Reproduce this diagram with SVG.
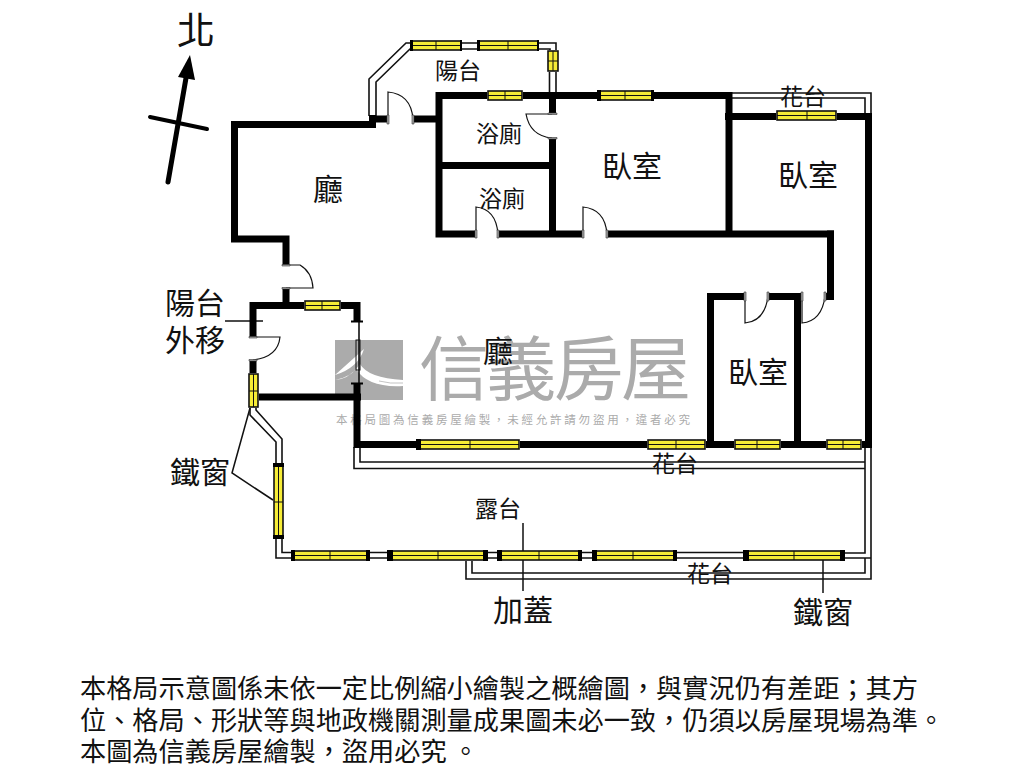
<svg xmlns="http://www.w3.org/2000/svg" width="1024" height="768" viewBox="0 0 1024 768">
<style>
text{font-family:"Noto Sans CJK TC","Noto Sans CJK SC",sans-serif;fill:#111;text-anchor:middle;font-weight:400}
.wall{fill:none;stroke:#000;stroke-width:7;stroke-linecap:butt;stroke-linejoin:miter}
.thin{fill:none;stroke:#111;stroke-width:1.6}
.door{fill:none;stroke:#111;stroke-width:1.2}
.lead{fill:none;stroke:#111;stroke-width:1.5}
.win{fill:#f6ec36;stroke:#111;stroke-width:1.6}
.wl{fill:none;stroke:#111;stroke-width:1}
.cap{fill:#000}
.jamb{fill:#aaa;stroke:#333;stroke-width:.6}
.s30{font-size:30px}.s23{font-size:23px}.s26{font-size:26.2px;text-anchor:start}
.wm{fill:#ababab}
</style>
<rect width="1024" height="768" fill="#fff"/>
<g id="watermark">
<rect x="335" y="340" width="68" height="60" fill="#ababab"/>
<path d="M364 349Q358 368 335 375V380Q352 377 360 364Q368 378 403 380V386Q368 388 356 369Q348 379 335 380V375Z" fill="#fff"/>
<path d="M379 381Q390 384 403 383" fill="none" stroke="#ababab" stroke-width=".7"/>
<text class="wm" x="555" y="395" font-size="70" textLength="272" lengthAdjust="spacing">信義房屋</text>
<text class="wm" x="513" y="424" font-size="11.5" textLength="354" lengthAdjust="spacing">本格局圖為信義房屋繪製，未經允許請勿盜用，違者必究</text>
</g>
<g id="connectors">
<g id="balcony-lines">
<path class="thin" d="M369 116V79L406 43H411M376 116V82L410 49H411"/>
<path class="thin" d="M462 43H477M462 49H477M539 43H556V50M539 49H550V50M549.500 72V92M556 72V92"/>
<path class="thin" d="M730 93H871V113M730 98H865V113"/>
<path class="thin" d="M354 447V468.500H865M360 447V462H865M865 448V553H845M871 448V579H466V561M865 558V573H472V561"/>
<path class="thin" d="M845 558H871M370 552.500H387M370 558H387M488 552.500H497M488 558H497M582 552.500H592M582 558H592M677 552.500H743M677 558H743"/>
<path class="thin" d="M276 539V558H291M282 539V552.500H291M250 408V415L276 442V463M256 408V410L282 439V463"/>
<path class="thin" d="M359 322V383"/><rect class="thin" x="356" y="340" width="4" height="30" style="stroke-width:1"/>
</g>
<g id="leaders">
<path class="lead" d="M225 321H263M250 408L232 473L273 500M523 523V591M823 558V593"/>
</g>
</g>
<g id="walls">
<path class="wall" d="M376 124.500H234.500V239H286V265M286 288V305.500"/>
<rect class="cap" x="369" y="115" width="7" height="13"/>
<path class="wall" d="M369 119H388M413 119H439M439 92V237.500M436 95.500H487M523 95.500H597M654 95.500H732M439 165.500H556M552.500 95.500V114M552.500 138V237M436 234H475M498 234H582M607 234H834"/>
<path class="wall" d="M729 92V237M725 116.500H776M837 116.500H872M868.500 113V448M830.500 230.500V300M825 296.500H834M710.500 444V296.500H744M768 296.500H801M797.500 293V448"/>
<path class="wall" d="M253 337V305.500H304M341 305.500H360.500M357 302V322M253 360V373M259 397H361M357 383V448M356 444.500H416M520 444.500H647M706 444.500H734M781 444.500H826M862 444.500H872"/>
<path class="cap" d="M351 320.500H363V322.500H351ZM351 382.500H363V384.500H351Z"/>
</g>
<g id="doors">
<path class="door" d="M388 119V92Q411 94 413 119"/>
<path class="door" d="M552 114H526Q530 136 552 138"/>
<path class="door" d="M476 234V207Q496 209 498 234"/>
<path class="door" d="M583 234V207Q605 209 607 234"/>
<path class="door" d="M286 265H300Q312 272 313 288H286"/>
<path class="door" d="M253 337H280Q278 357 253 360"/>
<path class="door" d="M745 296V323Q765 321 768 296"/>
<path class="door" d="M802 296V323Q822 321 825 296"/>
<path class="jamb" d="M387 115h2v9h-2zM412 115h2v9h-2zM548 113h9v1.500h-9zM548 137.500h9v1.500h-9zM475 230h2v8h-2zM497 230h2v8h-2zM582 230h2v8h-2zM606 230h2v8h-2zM282 264.500h8v1.500h-8zM282 287.500h8v1.500h-8zM249 336.500h8v1.500h-8zM249 359.500h8v1.500h-8zM744 292h2v9h-2zM767 292h2v9h-2zM801 292h2v9h-2zM824 292h2v9h-2z"/>
</g>
<g id="windows">
<g id="win-balcony">
<rect class="win" x="411" y="41" width="50" height="9"/><path class="wl" d="M411 45.500H461M436 41V50"/><path class="cap" d="M410 40h3v11h-3zM460 40h2v11h-2z"/>
<rect class="win" x="478" y="41" width="60" height="9"/><path class="wl" d="M478 45.500H538M508 41V50"/><path class="cap" d="M477 40h3v11h-3zM537 40h2v11h-2z"/>
<rect class="win" x="548" y="51" width="10" height="20"/><path class="wl" d="M553 51V71M548 61H558"/>
</g>
<g id="win-top">
<rect class="win" x="488" y="91" width="34" height="9"/><path class="wl" d="M488 95.500H522M505 91V100"/>
<rect class="win" x="598" y="91" width="55" height="9"/><path class="wl" d="M598 95.500H653M625 91V100"/><path class="cap" d="M597 90h4v11h-4zM651 90h3v11h-3z"/>
<rect class="win" x="777" y="111" width="59" height="9"/><path class="wl" d="M777 115.500H836M807 111V120"/>
</g>
<g id="win-west">
<rect class="win" x="305" y="301" width="35" height="9"/><path class="wl" d="M305 305.500H340M322 301V310"/>
<rect class="win" x="249" y="374" width="9" height="33"/><path class="wl" d="M253.500 374V407M249 391H258"/>
<rect class="win" x="274" y="464" width="9" height="74"/><path class="wl" d="M278.500 464V538M274 502H283"/><path class="cap" d="M273 463h11v4h-11zM273 535h11v4h-11z"/>
</g>
<g id="win-south">
<rect class="win" x="417" y="440" width="102" height="9"/><path class="wl" d="M417 444.500H519M470 440V449"/><path class="cap" d="M416 439h5v11h-5z"/>
<rect class="win" x="648" y="440" width="57" height="9"/><path class="wl" d="M648 444.500H705M676 440V449"/>
<rect class="win" x="735" y="440" width="45" height="9"/><path class="wl" d="M735 444.500H780M757 440V449"/>
<rect class="win" x="827" y="440" width="34" height="9"/><path class="wl" d="M827 444.500H861M843 440V449"/>
</g>
<g id="win-terrace">
<rect class="win" x="292" y="551" width="77" height="9"/><path class="wl" d="M292 555.500H369M330 551V560"/><path class="cap" d="M291 550h4v11h-4zM366 550h4v11h-4z"/>
<rect class="win" x="388" y="551" width="99" height="9"/><path class="wl" d="M388 555.500H487M438 551V560"/><path class="cap" d="M387 550h6v11h-6zM483 550h5v11h-5z"/>
<rect class="win" x="498" y="551" width="83" height="9"/><path class="wl" d="M498 555.500H581M539 551V560"/><path class="cap" d="M497 550h5v11h-5zM578 550h4v11h-4z"/>
<rect class="win" x="593" y="551" width="83" height="9"/><path class="wl" d="M593 555.500H676M633 551V560"/><path class="cap" d="M592 550h5v11h-5zM673 550h4v11h-4z"/>
<rect class="win" x="744" y="551" width="100" height="9"/><path class="wl" d="M744 555.500H844M794 551V560"/><path class="cap" d="M743 550h6v11h-6zM840 550h5v11h-5z"/>
</g>
</g>
<g id="north-arrow">
<path d="M168 182L186 78" fill="none" stroke="#000" stroke-width="5" stroke-linecap="round"/>
<path d="M190 55L178 77L195 80Z" fill="#000"/>
<path d="M150 117L207 129" fill="none" stroke="#000" stroke-width="4" stroke-linecap="round"/>
</g>
<g id="labels">
<text x="196" y="44" style="font-size:38px">北</text>
<text class="s30" x="328" y="200">廳</text>
<text class="s23" x="458" y="79">陽台</text>
<text class="s23" x="499" y="142">浴廁</text>
<text class="s23" x="502" y="207">浴廁</text>
<text class="s30" x="632" y="177">臥室</text>
<text class="s30" x="808" y="186">臥室</text>
<text class="s23" x="803" y="105">花台</text>
<text class="s30" x="498" y="362">廳</text>
<text class="s30" x="758" y="383">臥室</text>
<text class="s23" x="675" y="472">花台</text>
<text class="s23" x="498" y="517">露台</text>
<text class="s23" x="710" y="582">花台</text>
<text class="s30" x="523" y="621">加蓋</text>
<text class="s30" x="823" y="623">鐵窗</text>
<text class="s30" x="200" y="483">鐵窗</text>
<text class="s30" x="195" y="314">陽台</text>
<text class="s30" x="195" y="351">外移</text>
</g>
<g id="note">
<text class="s26" x="80" y="698">本格局示意圖係未依一定比例縮小繪製之概繪圖，與實況仍有差距；其方</text>
<text class="s26" x="80" y="730">位、格局、形狀等與地政機關測量成果圖未必一致，仍須以房屋現場為準。</text>
<text class="s26" x="80" y="761">本圖為信義房屋繪製，盜用必究 。</text>
</g>
</svg>
